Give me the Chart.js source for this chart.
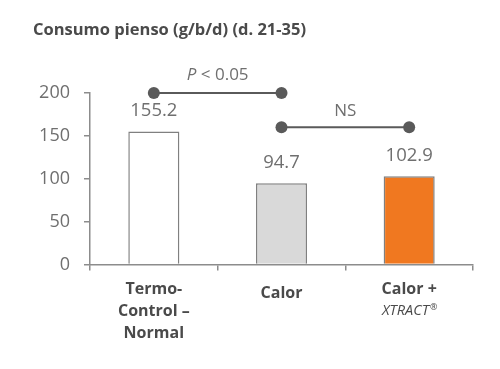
<!DOCTYPE html>
<html>
<head>
<meta charset="utf-8">
<script src="https://cdn.jsdelivr.net/npm/chart.js@4.4.1/dist/chart.umd.min.js"></script>
<style>
  html, body { margin: 0; padding: 0; background: #fff; }
  #wrap { width: 500px; height: 369px; position: relative; }
</style>
</head>
<body>
<div id="wrap"><canvas id="chart"></canvas></div>
<script>
// datos
const titulo = 'Consumo pienso (g/b/d) (d. 21-35)';
const categorias = ['Termo-Control – Normal', 'Calor', 'Calor + XTRACT®'];
const consumo = [155.2, 94.7, 102.9];
const coloresBarra = ['#ffffff', '#d9d9d9', '#f07820'];
const yTicks = [0, 50, 100, 150, 200];
// lineas de significancia
const sigA = [200, 200, null];
const sigB = [null, 160, 160];
const sigTextos = ['P < 0.05', 'NS'];

const grisTexto = '#6f6f6f';
const grisOscuro = '#4a4a4a';
const fuente = "'Open Sans', sans-serif";

// etiquetas, valores y titulo dibujados a mano
const textosPlugin = {
    id: 'textos',
    afterDatasetsDraw(chart) {
        const ctx = chart.ctx;
        const x = chart.scales.x;
        const y = chart.scales.y;
        ctx.save();

        // titulo
        ctx.fillStyle = grisOscuro;
        ctx.font = "bold 16.5px " + fuente;
        ctx.textAlign = 'left';
        ctx.textBaseline = 'alphabetic';
        ctx.fillText(titulo, 33, 35);

        // valores encima de las barras
        const meta = chart.getDatasetMeta(0);
        ctx.fillStyle = grisTexto;
        ctx.font = "18.5px " + fuente;
        ctx.textAlign = 'center';
        ctx.textBaseline = 'middle';
        meta.data.forEach((bar, i) => {
            ctx.fillText(consumo[i].toFixed(1), bar.x, bar.y - 21);
        });

        // textos de significancia
        const pA = y.getPixelForValue(sigA[0]);
        const xA = (x.getPixelForValue(0) + x.getPixelForValue(1)) / 2;
        ctx.font = "italic 17px " + fuente;
        const wP = ctx.measureText('P').width;
        ctx.font = "17px " + fuente;
        const wRest = ctx.measureText(' < 0.05').width;
        const startA = xA - (wP + wRest) / 2;
        ctx.textAlign = 'left';
        ctx.font = "italic 17px " + fuente;
        ctx.fillText('P', startA, pA - 18);
        ctx.font = "17px " + fuente;
        ctx.fillText(' < 0.05', startA + wP, pA - 18);

        const pB = y.getPixelForValue(sigB[1]);
        const xB = (x.getPixelForValue(1) + x.getPixelForValue(2)) / 2;
        ctx.textAlign = 'center';
        ctx.fillText(sigTextos[1], xB, pB - 16);

        // etiquetas del eje x
        ctx.fillStyle = grisOscuro;
        ctx.font = "bold 16px " + fuente;
        const c0 = x.getPixelForValue(0);
        ctx.fillText('Termo-', c0, 289);
        ctx.fillText('Control –', c0, 311);
        ctx.fillText('Normal', c0, 333);
        ctx.fillText('Calor', x.getPixelForValue(1), 293);
        const c2 = x.getPixelForValue(2);
        ctx.fillText('Calor +', c2, 289);
        ctx.font = "italic 14.5px " + fuente;
        const wX = ctx.measureText('XTRACT').width;
        ctx.font = "9px " + fuente;
        const wR = ctx.measureText('®').width;
        ctx.textAlign = 'left';
        ctx.font = "italic 14.5px " + fuente;
        ctx.fillText('XTRACT', c2 - (wX + wR) / 2, 311);
        ctx.font = "9px " + fuente;
        ctx.fillText('®', c2 - (wX + wR) / 2 + wX + 1, 307);

        ctx.restore();
    }
};

const ctx = document.getElementById('chart').getContext('2d');

const chart = new Chart(ctx, {
    type: 'bar',
    data: {
        labels: categorias,
        datasets: [
            {
                type: 'bar',
                data: consumo,
                backgroundColor: coloresBarra,
                borderColor: '#808080',
                borderWidth: 1.5,
                barPercentage: 0.4,
                categoryPercentage: 1.0,
                order: 2
            },
            {
                type: 'line',
                data: sigA,
                borderColor: '#5a5a5a',
                borderWidth: 2,
                pointRadius: 6,
                pointBackgroundColor: '#5a5a5a',
                pointBorderWidth: 0,
                clip: false,
                order: 1
            },
            {
                type: 'line',
                data: sigB,
                borderColor: '#5a5a5a',
                borderWidth: 2,
                pointRadius: 6,
                pointBackgroundColor: '#5a5a5a',
                pointBorderWidth: 0,
                clip: false,
                order: 1
            }
        ]
    },
    options: {
        responsive: true,
        maintainAspectRatio: false,
        animation: false,
        layout: { padding: { top: 93, right: 27, left: 0, bottom: 0 } },
        plugins: {
            legend: { display: false },
            tooltip: { enabled: false },
            title: { display: false }
        },
        scales: {
            x: {
                afterFit: (s) => { s.height = 104.5; },
                ticks: { display: false },
                grid: {
                    offset: true,
                    drawOnChartArea: false,
                    drawTicks: true,
                    tickLength: 6,
                    color: '#8c8c8c',
                    lineWidth: 1.5
                },
                border: { display: true, color: '#8c8c8c', width: 1.5 }
            },
            y: {
                min: 0,
                max: 200,
                afterFit: (s) => { s.width = 90; },
                afterBuildTicks: (s) => { s.ticks = yTicks.map(v => ({ value: v })); },
                ticks: {
                    color: grisTexto,
                    font: { family: fuente, size: 18 },
                    padding: 14
                },
                grid: {
                    drawOnChartArea: false,
                    drawTicks: true,
                    tickLength: 6,
                    color: '#8c8c8c',
                    lineWidth: 1.5
                },
                border: { display: true, color: '#8c8c8c', width: 1.5 }
            }
        }
    },
    plugins: [textosPlugin]
});
</script>
</body>
</html>
